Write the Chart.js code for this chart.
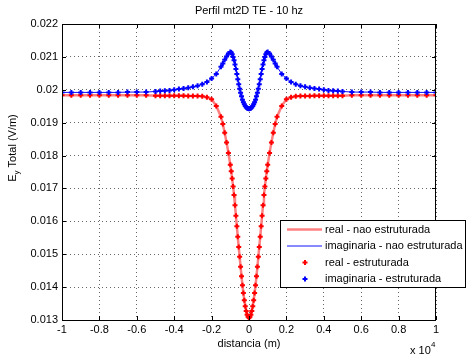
<!DOCTYPE html>
<html>
<head>
<meta charset="utf-8">
<script src="https://cdn.jsdelivr.net/npm/chart.js@4.4.1/dist/chart.umd.min.js"></script>
<style>
html,body{margin:0;padding:0;background:#fff;}
#wrap{width:466px;height:357px;}
</style>
</head>
<body>
<div id="wrap"><canvas id="c" width="466" height="357"></canvas></div>
<script>
// distance (m)
const distancia = [-10000,-9500,-9000,-8500,-8000,-7500,-7000,-6500,-6000,-5500,
  -5000,-4750,-4500,-4250,-4000,-3750,-3500,-3250,-3000,
  -2750,-2500,-2250,-2000,-1750,-1500,-1400,-1300,-1200,-1100,
  -1000,-950,-900,-850,-800,-750,-700,-650,-600,-550,-500,-450,-400,-350,-300,-250,-200,-150,-100,-50,
  0,
  50,100,150,200,250,300,350,400,450,500,550,600,650,700,750,800,850,900,950,1000,
  1100,1200,1300,1400,1500,1750,2000,2250,2500,2750,
  3000,3250,3500,3750,4000,4250,4500,4750,5000,
  5500,6000,6500,7000,7500,8000,8500,9000,9500,10000];
// Ey real
const realVals = [0.01983,0.01983,0.01983,0.01983,0.01983,0.01983,0.01983,0.01983,0.01983,0.01983,
  0.01982,0.01982,0.01982,0.01982,0.01982,0.01982,0.01982,0.01981,0.01981,
  0.01981,0.01980,0.01977,0.01971,0.01951,0.01918,0.01896,0.01869,0.01840,0.01808,
  0.01772,0.01752,0.01730,0.01706,0.01680,0.01649,0.01617,0.01585,0.01553,0.01522,0.01492,0.01462,0.01433,0.01406,0.01382,0.01360,0.01342,0.01327,0.01316,0.01310,
  0.01307,
  0.01310,0.01316,0.01327,0.01342,0.01360,0.01382,0.01406,0.01433,0.01462,0.01492,0.01522,0.01553,0.01585,0.01617,0.01649,0.01680,0.01706,0.01730,0.01752,0.01772,
  0.01808,0.01840,0.01869,0.01896,0.01918,0.01951,0.01971,0.01977,0.01980,0.01981,
  0.01981,0.01981,0.01982,0.01982,0.01982,0.01982,0.01982,0.01982,0.01982,
  0.01983,0.01983,0.01983,0.01983,0.01983,0.01983,0.01983,0.01983,0.01983,0.01983];
// Ey imaginary
const imagVals = [0.01992,0.01992,0.01992,0.01992,0.01992,0.01992,0.01992,0.01993,0.01993,0.01993,
  0.01995,0.01996,0.01997,0.01998,0.02000,0.02002,0.02004,0.02006,0.02009,
  0.02012,0.02017,0.02024,0.02034,0.02048,0.02070,0.02080,0.02091,0.02101,0.02110,
  0.02115,0.02113,0.02108,0.02100,0.02090,0.02077,0.02063,0.02048,0.02032,0.02017,0.02003,0.01991,0.01980,0.01970,0.01962,0.01956,0.01951,0.01947,0.01944,0.01943,
  0.01942,
  0.01943,0.01944,0.01947,0.01951,0.01956,0.01962,0.01970,0.01980,0.01991,0.02003,0.02017,0.02032,0.02048,0.02063,0.02077,0.02090,0.02100,0.02108,0.02113,0.02115,
  0.02110,0.02101,0.02091,0.02080,0.02070,0.02048,0.02034,0.02024,0.02017,0.02012,
  0.02009,0.02006,0.02004,0.02002,0.02000,0.01998,0.01997,0.01996,0.01995,
  0.01993,0.01993,0.01993,0.01992,0.01992,0.01992,0.01992,0.01992,0.01992,0.01992];

const legendLabels = ["real - nao estruturada","imaginaria - nao estruturada","real - estruturada","imaginaria - estruturada"];
const titleText = "Perfil mt2D TE - 10 hz";
const xLabel = "distancia (m)";

const FONT = "'Liberation Sans', Arial, sans-serif";
const toPts = (xs, ys) => xs.map((x, i) => ({x: x, y: ys[i]}));

const decor = {
  id: 'decor',
  afterDraw(chart) {
    const ctx = chart.ctx;
    const a = chart.chartArea;
    const xs = chart.scales.x, ys = chart.scales.y;
    ctx.save();
    ctx.strokeStyle = '#000';
    ctx.lineWidth = 1;
    ctx.strokeRect(Math.round(a.left) + 0.5, Math.round(a.top) + 0.5, Math.round(a.right - a.left) - 1, Math.round(a.bottom - a.top));
    ctx.beginPath();
    xs.ticks.forEach(t => {
      const px = Math.round(xs.getPixelForValue(t.value)) + 0.5;
      ctx.moveTo(px, a.bottom); ctx.lineTo(px, a.bottom - 4);
      ctx.moveTo(px, a.top); ctx.lineTo(px, a.top + 4);
    });
    ys.ticks.forEach(t => {
      const py = Math.round(ys.getPixelForValue(t.value)) + 0.5;
      ctx.moveTo(a.left, py); ctx.lineTo(a.left + 4, py);
      ctx.moveTo(a.right, py); ctx.lineTo(a.right - 4, py);
    });
    ctx.stroke();

    ctx.fillStyle = '#000';
    ctx.font = '11px ' + FONT;
    ctx.textAlign = 'center';
    ctx.textBaseline = 'middle';
    ctx.fillText(titleText, (a.left + a.right) / 2, 11);
    ctx.fillText(xLabel, (a.left + a.right) / 2, 344);
    ctx.textAlign = 'left';
    ctx.fillText('x 10', 410, 351);
    ctx.font = '8px ' + FONT;
    ctx.fillText('4', 431, 345);

    ctx.save();
    ctx.translate(13, 148);
    ctx.rotate(-Math.PI / 2);
    ctx.textBaseline = 'middle';
    const p1 = 'E', p3 = ' Total (V/m)';
    ctx.font = '11px ' + FONT;
    const w1 = ctx.measureText(p1).width;
    const w3 = ctx.measureText(p3).width;
    ctx.font = '8px ' + FONT;
    const w2 = ctx.measureText('y').width;
    let x0 = -(w1 + w2 + w3) / 2;
    ctx.textAlign = 'left';
    ctx.font = '11px ' + FONT;
    ctx.fillText(p1, x0, 0);
    ctx.font = '8px ' + FONT;
    ctx.fillText('y', x0 + w1, 4);
    ctx.font = '11px ' + FONT;
    ctx.fillText(p3, x0 + w1 + w2, 0);
    ctx.restore();

    const lx = 280, ly = 220, lw = 185, lh = 67;
    ctx.fillStyle = '#fff';
    ctx.fillRect(lx, ly, lw, lh);
    ctx.strokeStyle = '#000';
    ctx.lineWidth = 1;
    ctx.strokeRect(lx + 0.5, ly + 0.5, lw, lh);
    const rows = [229.5, 246, 262.5, 279];
    const ds = chart.data.datasets;
    ctx.font = '11px ' + FONT;
    ctx.textAlign = 'left';
    ctx.textBaseline = 'middle';
    [0, 1].forEach(i => {
      ctx.strokeStyle = ds[i].borderColor;
      ctx.lineWidth = ds[i].borderWidth;
      ctx.beginPath();
      ctx.moveTo(287, rows[i]); ctx.lineTo(322, rows[i]);
      ctx.stroke();
    });
    [2, 3].forEach(i => {
      ctx.strokeStyle = ds[i].borderColor;
      ctx.lineWidth = 2;
      ctx.beginPath();
      ctx.moveTo(302.5, rows[i]); ctx.lineTo(307.5, rows[i]);
      ctx.moveTo(305, rows[i] - 2.5); ctx.lineTo(305, rows[i] + 2.5);
      ctx.stroke();
    });
    ctx.fillStyle = '#000';
    legendLabels.forEach((t, i) => ctx.fillText(t, 325, rows[i]));
    ctx.restore();
  }
};

new Chart(document.getElementById('c'), {
  type: 'scatter',
  data: {
    datasets: [
      {label: legendLabels[0], data: toPts(distancia, realVals), showLine: true, pointRadius: 0, borderColor: '#ff8080', borderWidth: 2.5, order: 3},
      {label: legendLabels[1], data: toPts(distancia, imagVals), showLine: true, pointRadius: 0, borderColor: '#1010ff', borderWidth: 1, order: 2},
      {label: legendLabels[2], data: toPts(distancia, realVals), showLine: false, pointStyle: 'cross', pointRadius: 2.5, borderColor: '#ff0000', backgroundColor: '#ff0000', borderWidth: 2, order: 1},
      {label: legendLabels[3], data: toPts(distancia, imagVals), showLine: false, pointStyle: 'cross', pointRadius: 2.5, borderColor: '#0000ff', backgroundColor: '#0000ff', borderWidth: 2, order: 0}
    ]
  },
  options: {
    responsive: false,
    animation: false,
    events: [],
    layout: {padding: {top: 24, right: 30, left: 0, bottom: 0}},
    plugins: {legend: {display: false}, title: {display: false}, tooltip: {enabled: false}},
    scales: {
      x: {
        type: 'linear', min: -10000, max: 10000,
        afterFit: s => { s.height = 37; },
        ticks: {stepSize: 2000, padding: 3, color: '#000', font: {family: FONT, size: 11},
          maxRotation: 0, autoSkip: false,
          callback: v => String(parseFloat((v / 10000).toFixed(1)))},
        grid: {color: 'rgba(0,0,0,0.6)', drawTicks: false, lineWidth: 1},
        border: {display: false, dash: [1, 3]}
      },
      y: {
        type: 'linear', min: 0.013, max: 0.022,
        afterFit: s => { s.width = 62; },
        ticks: {stepSize: 0.001, padding: 4, color: '#000', font: {family: FONT, size: 11},
          autoSkip: false,
          callback: v => String(parseFloat(v.toFixed(3)))},
        grid: {color: 'rgba(0,0,0,0.6)', drawTicks: false, lineWidth: 1},
        border: {display: false, dash: [1, 3]}
      }
    }
  },
  plugins: [decor]
});
</script>
</body>
</html>
